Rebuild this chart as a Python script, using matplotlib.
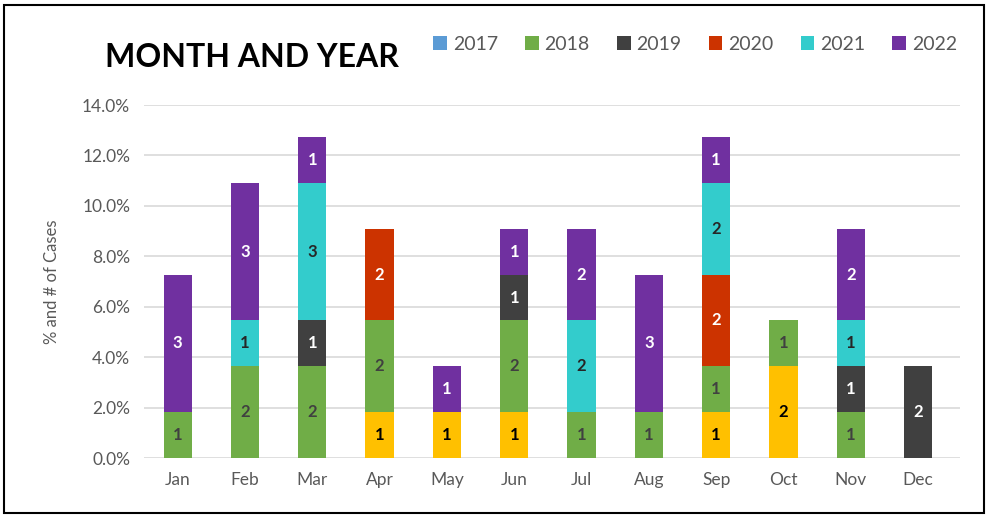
import numpy as np
import matplotlib.pyplot as plt
from matplotlib.patches import Rectangle
from matplotlib.ticker import FuncFormatter

plt.rcParams['font.family'] = ['Lato', 'DejaVu Sans']

months = ["Jan", "Feb", "Mar", "Apr", "May", "Jun", "Jul", "Aug", "Sep", "Oct", "Nov", "Dec"]

# case counts per month; the gold series has no legend entry in the original
unlisted = [0, 0, 0, 1, 1, 1, 0, 0, 1, 2, 0, 0]
y2017 = [0, 0, 0, 0, 0, 0, 0, 0, 0, 0, 0, 0]
y2018 = [1, 2, 2, 2, 0, 2, 1, 1, 1, 1, 1, 0]
y2019 = [0, 0, 1, 0, 0, 1, 0, 0, 0, 0, 1, 2]
y2020 = [0, 0, 0, 2, 0, 0, 0, 0, 2, 0, 0, 0]
y2021 = [0, 1, 3, 0, 0, 0, 2, 0, 2, 0, 1, 0]
y2022 = [3, 3, 1, 0, 1, 1, 2, 3, 1, 0, 2, 0]

series = [
    (None, unlisted, "#FFC000", "black"),
    ("2017", y2017, "#5B9BD5", "white"),
    ("2018", y2018, "#70AD47", "#404040"),
    ("2019", y2019, "#404040", "white"),
    ("2020", y2020, "#CC3300", "white"),
    ("2021", y2021, "#33CCCC", "#262626"),
    ("2022", y2022, "#7030A0", "white"),
]

total = sum(sum(s[1]) for s in series)

fig = plt.figure(figsize=(9.9, 5.16), dpi=100)
ax = fig.add_axes([0.1455, 0.1124, 0.824, 0.6841])

x = np.arange(len(months))
bottom = np.zeros(len(months))
for name, counts, color, tcol in series:
    counts = np.array(counts, dtype=float)
    pct = counts / total * 100
    ax.bar(x, pct, width=0.42, bottom=bottom, color=color, zorder=3,
           label=name if name else "_nolegend_")
    for xi, c, b, p in zip(x, counts, bottom, pct):
        if c > 0:
            ax.text(xi, b + p / 2, f"{int(c)}", ha="center", va="center",
                    color=tcol, fontsize=12, fontweight="bold", zorder=4)
    bottom += pct

ax.set_xlim(-0.5, 11.62)
ax.set_ylim(0, 14)
ax.set_yticks(np.arange(0, 14.1, 2))
ax.yaxis.set_major_formatter(FuncFormatter(lambda v, _: f"{v:.1f}%"))
ax.set_xticks(x)
ax.set_xticklabels(months)
ax.grid(axis="y", color="#D9D9D9", lw=1.2, zorder=0)
for sp in ax.spines.values():
    sp.set_visible(False)
ax.tick_params(length=0, colors="#595959", labelsize=12.5, pad=10)
ax.set_ylabel("% and # of Cases", color="#595959", fontsize=12, labelpad=16)

fig.text(0.106, 0.889, "MONTH AND YEAR", fontsize=23, fontweight="bold",
         color="black", va="center", ha="left")
ax.legend(loc="center right", bbox_to_anchor=(1.018, 1.172), ncol=6, frameon=False,
          fontsize=14, handlelength=0.7, handleheight=0.7, handletextpad=0.3,
          columnspacing=1.4, labelcolor="#595959")

fig.patches.append(Rectangle((0.004, 0.006), 0.99, 0.985, transform=fig.transFigure,
                             fill=False, edgecolor="black", lw=1.5))

fig.savefig("out.png", dpi=100)
